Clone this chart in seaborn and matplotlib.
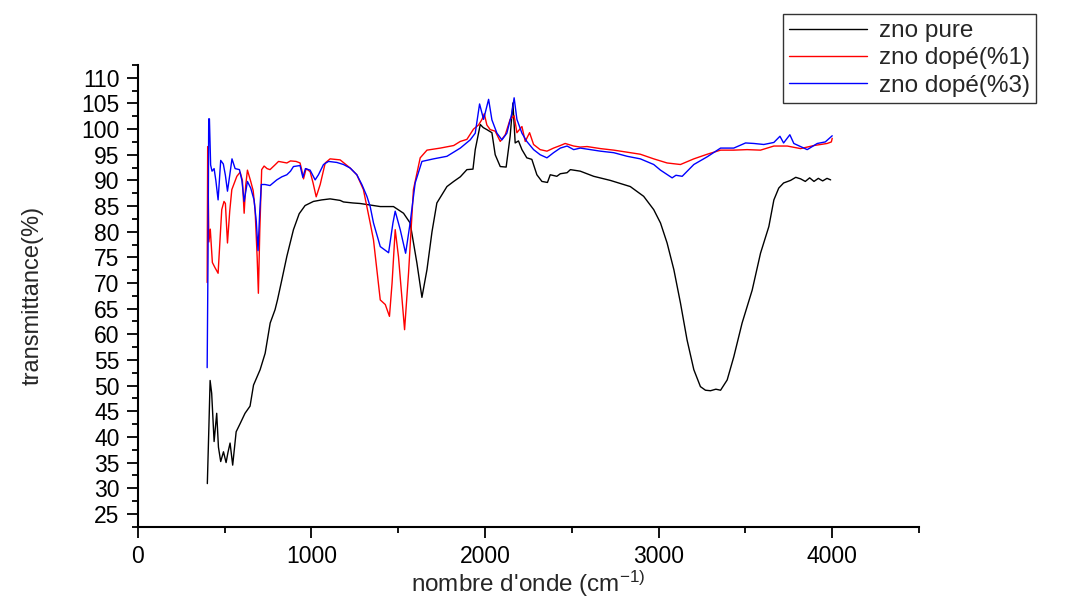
import numpy as np
import pandas as pd
import matplotlib
matplotlib.use("Agg")
import matplotlib.pyplot as plt
from matplotlib.ticker import MultipleLocator
import seaborn as sns

# ---- data ----
pure_x = [401, 410, 417, 426, 440, 455, 465, 478, 494, 509, 520, 532, 547, 567, 590, 618, 647, 667, 705,
          734, 763, 791, 805, 830, 859, 897, 930, 964, 1012, 1060, 1108, 1166, 1185, 1240, 1281, 1339,
          1397, 1473, 1531, 1569, 1608, 1637, 1666, 1695, 1723, 1781, 1820, 1858, 1896, 1931, 1944,
          1973, 1990, 2011, 2040, 2059, 2088, 2122, 2145, 2161, 2174, 2193, 2213, 2241, 2270, 2299,
          2328, 2360, 2376, 2414, 2434, 2473, 2492, 2549, 2626, 2722, 2837, 2914, 2972, 3011, 3049,
          3088, 3126, 3164, 3203, 3241, 3270, 3299, 3330, 3357, 3395, 3433, 3481, 3539, 3587, 3635,
          3664, 3692, 3720, 3760, 3790, 3818, 3845, 3870, 3895, 3920, 3945, 3970, 3991]
pure_y = [30.9, 42.0, 51.0, 48.5, 39.1, 44.6, 38.0, 35.2, 37.1, 35.0, 37.0, 38.8, 34.5, 41.0, 42.6, 44.6,
          46.0, 50.1, 53.1, 56.3, 62.2, 64.8, 66.7, 70.6, 75.2, 80.4, 83.5, 85.1, 85.9, 86.2, 86.4, 86.1,
          85.8, 85.6, 85.5, 85.2, 84.9, 84.9, 83.6, 81.7, 73.9, 67.2, 72.6, 80.0, 85.6, 88.8, 89.8, 90.7,
          92.1, 92.2, 96.0, 100.9, 100.3, 99.9, 99.3, 95.0, 92.7, 92.6, 98.6, 105.1, 97.3, 97.7, 96.0,
          94.4, 94.1, 91.1, 89.8, 89.6, 91.1, 90.8, 91.3, 91.5, 92.1, 91.8, 90.8, 90.0, 88.8, 86.9, 84.3,
          81.7, 77.8, 72.6, 66.1, 58.9, 53.1, 49.8, 49.1, 49.0, 49.3, 49.1, 51.1, 55.6, 62.2, 68.6, 75.8,
          81.0, 86.2, 88.5, 89.5, 90.0, 90.6, 90.3, 89.8, 90.5, 89.8, 90.4, 89.9, 90.4, 90.1]

dop1_x = [400, 403, 410, 418, 430, 445, 463, 484, 497, 505, 517, 530, 542, 571, 590, 603, 613, 622, 632,
          651, 665, 676, 688, 695, 703, 714, 728, 745, 762, 790, 811, 859, 880, 912, 935, 945, 955, 970,
          993, 1010, 1028, 1051, 1080, 1108, 1166, 1224, 1262, 1300, 1339, 1358, 1397, 1426, 1450, 1465,
          1483, 1502, 1537, 1560, 1588, 1627, 1666, 1743, 1820, 1858, 1896, 1934, 1963, 1983, 1996,
          2011, 2030, 2059, 2088, 2117, 2145, 2168, 2184, 2213, 2232, 2257, 2280, 2318, 2357, 2395,
          2434, 2462, 2511, 2549, 2588, 2665, 2742, 2819, 2895, 2972, 3049, 3100, 3126, 3203, 3280,
          3357, 3433, 3510, 3587, 3664, 3741, 3818, 3895, 3971, 3995, 4000]
dop1_y = [70.1, 96.6, 78.0, 80.5, 74.0, 73.0, 71.9, 84.3, 85.9, 85.5, 77.8, 84.0, 88.2, 90.8, 91.6, 90.0,
          83.6, 89.0, 92.0, 89.8, 88.0, 84.3, 75.0, 68.0, 80.0, 92.1, 92.8, 92.3, 92.1, 93.0, 93.7, 93.4,
          93.8, 93.7, 93.4, 92.0, 90.3, 92.3, 91.7, 89.5, 86.8, 89.2, 93.4, 94.2, 94.0, 92.4, 91.1, 88.2,
          81.7, 78.4, 66.7, 65.8, 63.5, 70.0, 80.4, 75.1, 60.9, 72.0, 88.2, 94.4, 95.9, 96.3, 96.8, 97.6,
          98.0, 100.0, 100.8, 101.9, 103.0, 100.8, 99.9, 99.6, 97.6, 98.9, 101.9, 102.6, 99.3, 100.5,
          97.6, 99.3, 97.0, 96.0, 95.7, 96.3, 96.8, 97.2, 96.7, 96.5, 96.6, 96.2, 95.9, 95.5, 95.1, 94.2,
          93.4, 93.2, 93.1, 94.2, 95.1, 95.9, 95.9, 96.0, 95.9, 96.7, 96.7, 96.2, 96.8, 97.2, 97.5, 98.2]

dop3_x = [400, 405, 409, 413, 420, 428, 440, 450, 463, 478, 493, 505, 517, 530, 543, 561, 586, 600, 613,
          632, 651, 670, 683, 693, 703, 712, 733, 762, 801, 830, 859, 880, 897, 935, 951, 966, 993, 1022,
          1041, 1070, 1099, 1147, 1185, 1224, 1262, 1291, 1320, 1339, 1358, 1397, 1445, 1470, 1483, 1512,
          1543, 1569, 1598, 1637, 1704, 1781, 1858, 1915, 1944, 1969, 1992, 2021, 2040, 2069, 2098,
          2126, 2155, 2168, 2184, 2213, 2241, 2280, 2318, 2357, 2395, 2434, 2473, 2511, 2549, 2588,
          2665, 2742, 2819, 2895, 2972, 3011, 3078, 3100, 3136, 3203, 3280, 3357, 3433, 3501, 3549,
          3606, 3664, 3699, 3720, 3756, 3779, 3856, 3914, 3960, 4000]
dop3_y = [53.5, 75.0, 102.0, 102.0, 93.0, 91.8, 92.3, 90.0, 86.2, 93.9, 93.2, 91.0, 87.9, 91.0, 94.2, 92.3,
          92.1, 90.0, 85.9, 89.8, 88.5, 86.2, 82.0, 76.3, 84.0, 89.2, 89.2, 89.0, 90.1, 90.7, 91.1, 91.8,
          92.7, 92.9, 90.6, 92.3, 92.0, 90.1, 91.1, 93.1, 93.7, 93.5, 93.1, 92.4, 91.1, 89.2, 86.9, 84.9,
          81.7, 77.1, 75.9, 81.7, 84.0, 80.4, 75.8, 81.7, 89.5, 93.7, 94.2, 94.7, 96.3, 97.9, 99.2, 104.9,
          101.9, 105.8, 101.8, 99.2, 97.9, 99.2, 103.1, 106.1, 101.9, 99.2, 97.6, 96.0, 95.0, 94.4, 95.4,
          96.3, 96.7, 96.0, 96.3, 96.1, 95.7, 95.4, 94.7, 94.2, 93.1, 92.0, 90.5, 91.0, 90.8, 93.1, 94.6,
          96.3, 96.3, 97.3, 97.2, 97.0, 97.4, 98.6, 97.3, 98.9, 97.2, 96.0, 97.2, 97.5, 98.7]

series_names = ["zno pure", "zno dopé(%1)", "zno dopé(%3)"]
series_colors = ["#000000", "#ff0000", "#0000ff"]

x_ticks = [0, 1000, 2000, 3000, 4000]
y_ticks = list(range(25, 111, 5))

df = pd.concat([
    pd.DataFrame({"x": pure_x, "y": pure_y, "série": series_names[0]}),
    pd.DataFrame({"x": dop1_x, "y": dop1_y, "série": series_names[1]}),
    pd.DataFrame({"x": dop3_x, "y": dop3_y, "série": series_names[2]}),
], ignore_index=True)

# ---- style ----
sns.set_style("ticks")
plt.rcParams["font.family"] = ["Liberation Sans", "DejaVu Sans"]
plt.rcParams["mathtext.default"] = "regular"

fig = plt.figure(figsize=(10.7, 6), dpi=100)
ax = fig.add_axes([0.1287, 0.1222, 0.7302, 0.7695])

sns.lineplot(data=df, x="x", y="y", hue="série", palette=dict(zip(series_names, series_colors)),
             hue_order=series_names, estimator=None, sort=False, linewidth=1.0, ax=ax, legend=True)

ax.set_xlim(0, 4500)
ax.set_ylim(22.5, 112.5)
ax.set_xticks(x_ticks)
ax.set_yticks(y_ticks)
ax.xaxis.set_minor_locator(MultipleLocator(500))
ax.yaxis.set_minor_locator(MultipleLocator(2.5))

for s in ["top", "right"]:
    ax.spines[s].set_visible(False)
for s in ["left", "bottom"]:
    ax.spines[s].set_linewidth(1.5)
    ax.spines[s].set_color("black")

ax.tick_params(axis="both", which="major", direction="out", length=8, width=1.3,
               labelsize=16.5, colors="black", pad=5)
ax.tick_params(axis="both", which="minor", direction="out", length=4.5, width=1.3, colors="black")

ax.set_xlabel("nombre d'onde (cm$^{-1)}$", fontsize=17.5, labelpad=1)
ax.set_ylabel("transmittance(%)", fontsize=17, labelpad=27)

leg = ax.legend(loc="upper left", bbox_to_anchor=(782.7 / 1070, 1 - 14 / 600),
                bbox_transform=fig.transFigure, fontsize=17.5, frameon=True, fancybox=False,
                handlelength=3.2, handletextpad=0.5, labelspacing=0.22, borderpad=0.25,
                borderaxespad=0)
leg.get_frame().set_edgecolor("black")
leg.get_frame().set_linewidth(1.0)
for line in leg.get_lines():
    line.set_linewidth(1.0)

fig.savefig("out.png", dpi=100)
